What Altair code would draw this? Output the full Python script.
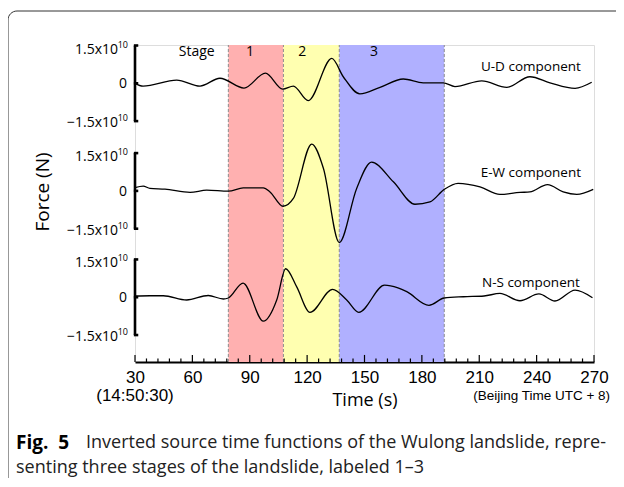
import altair as alt
import pandas as pd

# ---------------- data (force in units of 1e10 N, time in s) ----------------
ud_t = [30, 34.2, 51.8, 64.0, 74.4, 87.0, 98.2, 107.2, 112.8, 120.6, 132.9, 138.9,
        147.6, 158.1, 170.3, 180.7, 191.2, 197.3, 211.3, 224.4, 236.5, 247.0, 260.1, 268.8]
ud_v = [0.0, -0.11, 0.13, -0.11, 0.20, -0.19, 0.40, -0.23, -0.11, -0.69, 0.99, 0.26,
        -0.42, -0.16, 0.17, 0.02, 0.02, -0.13, 0.10, -0.16, 0.26, 0.02, -0.20, 0.04]

ew_t = [30, 34.3, 37.8, 45.7, 58.8, 67.5, 78.8, 86.6, 97.1, 100.6, 107.4, 112.8, 122.4,
        128.5, 136.8, 145.9, 153.7, 165.1, 176.4, 184.2, 191.7, 198.9, 210.4, 220.8,
        231.3, 236.5, 245.7, 253.9, 261.0, 269.6]
ew_v = [0.13, 0.19, 0.10, 0.07, -0.06, 0.03, -0.01, 0.12, 0.12, -0.04, -0.61, -0.30, 1.86,
        0.90, -2.05, 0.10, 1.14, 0.36, -0.53, -0.44, 0.06, 0.30, 0.16, -0.14,
        -0.06, -0.04, 0.25, -0.04, -0.14, 0.06]

ns_t = [30, 37.8, 44.8, 57.0, 68.3, 76.2, 78.8, 86.5, 97.1, 104.1, 108.8, 114.5, 121.5,
        133.3, 140.7, 147.0, 160.5, 167.5, 172.1, 183.7, 191.7, 201.7, 212.5, 220.8,
        231.3, 241.2, 249.6, 260.1, 269.2]
ns_v = [0.05, 0.06, 0.06, -0.11, 0.07, -0.07, -0.03, 0.56, -0.95, -0.11, 1.13, 0.42, -0.60,
        0.31, -0.11, -0.60, 0.48, 0.37, 0.22, -0.32, -0.03, 0.02, 0.05, 0.15,
        -0.14, 0.13, -0.15, 0.28, -0.02]

components = ["U-D component", "E-W component", "N-S component"]
stage_bounds = [78.8, 107.6, 136.8, 191.7]
stage_names = ["1", "2", "3"]
stage_colors = ["#ffb0b0", "#ffffb0", "#b0b0ff"]
stage_label_t = [62.3, 90.1, 117.5, 155.0]
stage_label_text = ["Stage", "1", "2", "3"]

major_ticks = [30, 60, 90, 120, 150, 180, 210, 240, 270]
minor_ticks = [t for t in range(30, 271, 6) if t % 30 != 0]

y_tick_vals = [-1.5, 0.0, 1.5]

# ---------------- layout constants ----------------
W, H = 459, 317
PANEL_OFFSET = {"U-D component": 11.06, "E-W component": 6.79, "N-S component": 2.57}
YMAX = 12.58
LABEL_REL = {"U-D component": 0.65, "E-W component": 0.71, "N-S component": 0.57}
LABEL_T = 237
FONT = "Open Sans"
AXFONT = "Liberation Sans"

xs = alt.Scale(domain=[30, 270], nice=False, zero=False)
ys = alt.Scale(domain=[0, YMAX], nice=False, zero=False)
x_axis = alt.Axis(
    values=major_ticks, ticks=False, tickSize=0, grid=False,
    domainWidth=2, domainColor="black", labelFont=AXFONT, labelFontSize=17,
    labelColor="black", labelPadding=7, labelFlush=False,
    title="Time (s)", titleFont=FONT, titleFontSize=18, titleFontWeight="normal",
    titleColor="black", titlePadding=6)

rows = []
for comp, ts, vs in zip(components, [ud_t, ew_t, ns_t], [ud_v, ew_v, ns_v]):
    for t, v in zip(ts, vs):
        rows.append({"t": t, "force": v, "comp": comp, "y": v + PANEL_OFFSET[comp]})
df_lines = pd.DataFrame(rows)

df_stage = pd.DataFrame({"start": stage_bounds[:-1], "end": stage_bounds[1:],
                         "stage": stage_names, "color": stage_colors,
                         "y0": [0.0] * 3, "y1": [YMAX] * 3})
df_bounds = pd.DataFrame({"t": stage_bounds, "y0": [0.0] * 4, "y1": [YMAX] * 4})
df_stage_lab = pd.DataFrame({"t": stage_label_t, "text": stage_label_text, "y": [12.30] * 4})
df_comp_lab = pd.DataFrame({"t": [LABEL_T] * 3, "text": components,
                            "y": [PANEL_OFFSET[c] + LABEL_REL[c] for c in components]})
df_bracket = pd.DataFrame({"t": [30.0] * 3,
                           "lo": [PANEL_OFFSET[c] - 1.5 for c in components],
                           "hi": [PANEL_OFFSET[c] + 1.5 for c in components]})
df_serif = pd.DataFrame({"y": [PANEL_OFFSET[c] + k for c in components for k in y_tick_vals]})
df_serif["t0"] = 29.4
df_serif["t1"] = 31.7
df_pos = pd.DataFrame({"t": [30.0] * 3, "y": [PANEL_OFFSET[c] + 1.5 for c in components],
                       "main": ["1.5x10"] * 3, "sup": ["10"] * 3})
df_neg = pd.DataFrame({"t": [30.0] * 3, "y": [PANEL_OFFSET[c] - 1.5 for c in components],
                       "main": ["\u22121.5x10"] * 3, "sup": ["10"] * 3})
df_zero = pd.DataFrame({"t": [30.0] * 3, "y": [PANEL_OFFSET[c] for c in components],
                        "main": ["0"] * 3})
df_ticks = pd.DataFrame({"t": major_ticks + minor_ticks,
                         "h": [0.28] * len(major_ticks) + [0.14] * len(minor_ticks)})
df_ticks["y0"] = 0.0
df_time0 = pd.DataFrame({"t": [30.0], "y": [-1.35], "text": ["(14:50:30)"]})
df_bj = pd.DataFrame({"t": [278.4], "y": [-1.33], "text": ["(Beijing Time UTC + 8)"]})

X = lambda f: alt.X(f, scale=xs, axis=x_axis)
Y = lambda f: alt.Y(f, scale=ys, axis=None)

rects = alt.Chart(df_stage).mark_rect().encode(
    x=X("start:Q"), x2="end:Q", y=Y("y0:Q"), y2="y1:Q",
    color=alt.Color("color:N", scale=None),
)

bounds = alt.Chart(df_bounds).mark_rule(color="#8c8c8c", strokeDash=[3, 2], strokeWidth=1).encode(
    x=X("t:Q"), y=Y("y0:Q"), y2="y1:Q",
)

lines = alt.Chart(df_lines).mark_line(color="black", strokeWidth=1.3, interpolate="monotone").encode(
    x=X("t:Q"), y=Y("y:Q"), detail="comp:N",
)

ticks = alt.Chart(df_ticks).mark_rule(color="black", strokeWidth=1.2).encode(
    x=X("t:Q"), y=Y("y0:Q"), y2="h:Q",
)

bracket = alt.Chart(df_bracket).mark_rule(color="black", strokeWidth=2.6).encode(
    x=X("t:Q"), y=Y("lo:Q"), y2="hi:Q",
)
serif = alt.Chart(df_serif).mark_rule(color="black", strokeWidth=2.6).encode(
    x=X("t0:Q"), x2="t1:Q", y=Y("y:Q"),
)


def ylab(df, dy, with_sup):
    base = alt.Chart(df)
    main = base.mark_text(align="right", baseline="middle", font=FONT, fontSize=14,
                          color="black", dx=-17 if with_sup else -8, dy=dy).encode(
        x=X("t:Q"), y=Y("y:Q"), text="main:N")
    if not with_sup:
        return [main]
    sup = base.mark_text(align="right", baseline="middle", font=FONT, fontSize=9,
                         color="black", dx=-7, dy=dy - 5).encode(
        x=X("t:Q"), y=Y("y:Q"), text="sup:N")
    return [main, sup]


stage_lab = alt.Chart(df_stage_lab).mark_text(font=FONT, fontSize=14, color="black",
                                              baseline="middle").encode(
    x=X("t:Q"), y=Y("y:Q"), text="text:N")

comp_lab = alt.Chart(df_comp_lab).mark_text(font=FONT, fontSize=13.5, color="black",
                                            baseline="middle").encode(
    x=X("t:Q"), y=Y("y:Q"), text="text:N")

time0 = alt.Chart(df_time0).mark_text(font=AXFONT, fontSize=17, color="black",
                                      baseline="middle").encode(
    x=X("t:Q"), y=Y("y:Q"), text="text:N")
beijing = alt.Chart(df_bj).mark_text(font=AXFONT, fontSize=13.5, color="black",
                                     baseline="middle", align="right").encode(
    x=X("t:Q"), y=Y("y:Q"), text="text:N")

ann = pd.DataFrame({"a": [0]})
ytitle = alt.Chart(ann).mark_text(font=FONT, fontSize=19, color="black", angle=270,
                                  baseline="middle").encode(
    x=alt.value(-92), y=alt.value(147), text=alt.value("Force (N)"))
cap1b = alt.Chart(ann).mark_text(font=FONT, fontSize=19, fontWeight="bold", color="black",
                                 align="left").encode(
    x=alt.value(-119), y=alt.value(398), text=alt.value("Fig.\u00a0\u00a05"))
cap1 = alt.Chart(ann).mark_text(font=FONT, fontSize=18, color="#222222", align="left").encode(
    x=alt.value(-49), y=alt.value(398),
    text=alt.value("Inverted source time functions of the Wulong landslide, repre-"))
cap2 = alt.Chart(ann).mark_text(font=FONT, fontSize=18, color="#222222", align="left").encode(
    x=alt.value(-119), y=alt.value(423),
    text=alt.value("senting three stages of the landslide, labeled 1\u20133"))
frame = alt.Chart(ann).mark_rect(filled=False, stroke="#333333", strokeWidth=1,
                                 cornerRadius=9).encode(
    x=alt.value(-127), x2=alt.value(490), y=alt.value(-34), y2=alt.value(444))

layers = [rects, bounds, lines, ticks, bracket, serif]
layers += ylab(df_pos, 4, True) + ylab(df_neg, 2, True) + ylab(df_zero, 1, False)
layers += [stage_lab, comp_lab, time0, beijing, ytitle, cap1b, cap1, cap2, frame]

chart = alt.layer(*layers).properties(
    width=W, height=H,
    autosize=alt.AutoSizeParams(type="none"),
    padding={"left": 127, "top": 37, "right": 22, "bottom": 116},
).configure_view(stroke=None).configure(background="white")

chart.save("out.html", embed_options={"renderer": "svg", "actions": False})
